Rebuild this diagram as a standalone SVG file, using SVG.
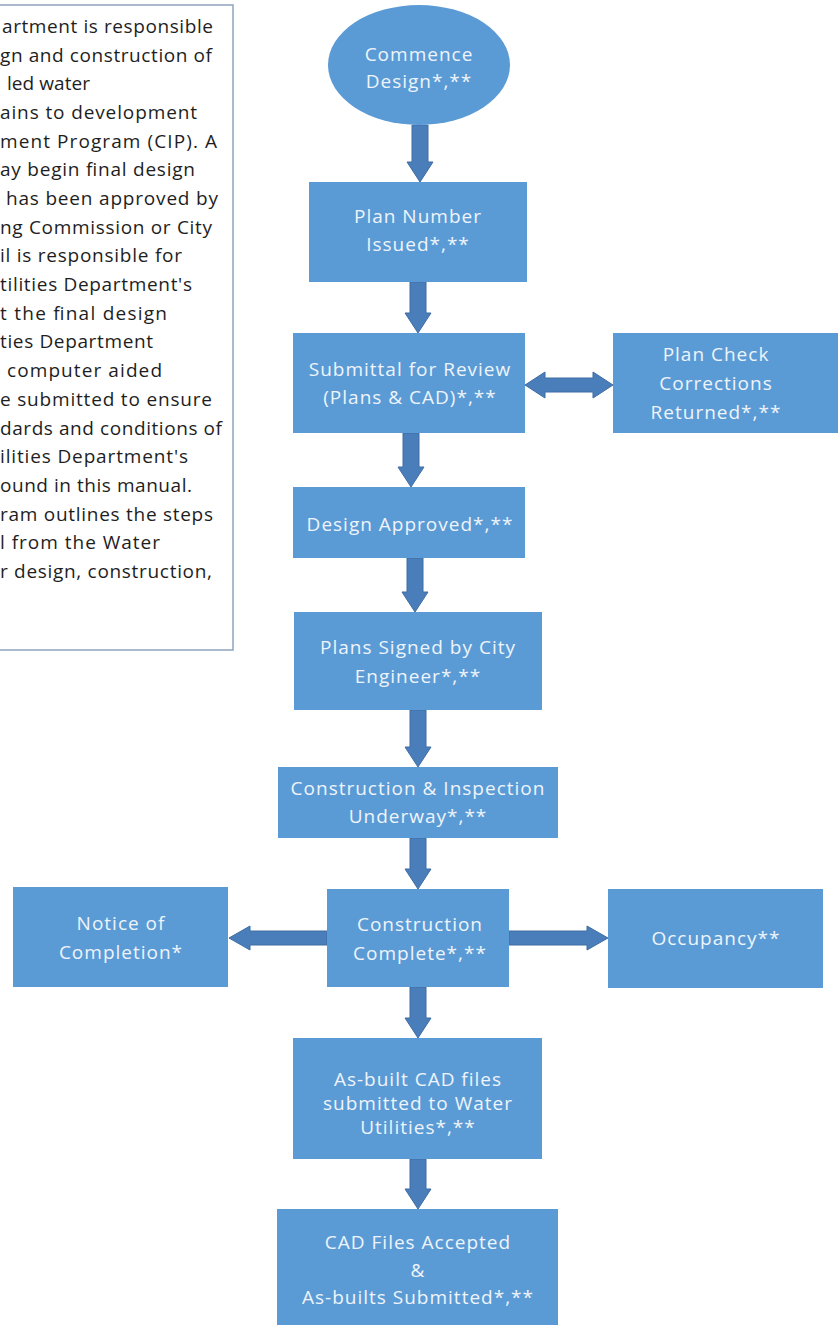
<svg xmlns="http://www.w3.org/2000/svg" width="838" height="1325" viewBox="0 0 838 1325">
<style>
.node{fill:#5b9bd5;}
.nt{font-family:"Open Sans","Liberation Sans",sans-serif;font-size:19px;letter-spacing:1px;fill:#eef4fb;text-anchor:middle;}
.pt{font-family:"Open Sans","Liberation Sans",sans-serif;font-size:19px;fill:#1e1e1e;}
.arr{fill:#4a7ebb;stroke:#3f6da3;stroke-width:1;}
</style>
<rect width="838" height="1325" fill="#ffffff"/>
<g id="info">
<rect x="-10" y="5" width="243" height="645" fill="#ffffff" stroke="#8fa3bd" stroke-width="1.5"/>
<text class="pt" x="2" y="33" textLength="211" lengthAdjust="spacing">artment is responsible</text>
<text class="pt" x="0" y="62" textLength="212" lengthAdjust="spacing">gn and construction of</text>
<text class="pt" x="7" y="90" textLength="83" lengthAdjust="spacing">led water</text>
<text class="pt" x="0" y="119" textLength="197" lengthAdjust="spacing">ains to development</text>
<text class="pt" x="0" y="148" textLength="217" lengthAdjust="spacing">ment Program (CIP). A</text>
<text class="pt" x="0" y="176" textLength="195" lengthAdjust="spacing">ay begin final design</text>
<text class="pt" x="6" y="205" textLength="212" lengthAdjust="spacing">has been approved by</text>
<text class="pt" x="0" y="234" textLength="212" lengthAdjust="spacing">ng Commission or City</text>
<text class="pt" x="0" y="262" textLength="182" lengthAdjust="spacing">il is responsible for</text>
<text class="pt" x="0" y="291" textLength="192" lengthAdjust="spacing">tilities Department's</text>
<text class="pt" x="0" y="320" textLength="167" lengthAdjust="spacing">t the final design</text>
<text class="pt" x="0" y="348" textLength="153" lengthAdjust="spacing">ties Department</text>
<text class="pt" x="7" y="377" textLength="155" lengthAdjust="spacing">computer aided</text>
<text class="pt" x="0" y="406" textLength="212" lengthAdjust="spacing">e submitted to ensure</text>
<text class="pt" x="0" y="435" textLength="222" lengthAdjust="spacing">dards and conditions of</text>
<text class="pt" x="0" y="463" textLength="188" lengthAdjust="spacing">ilities Department's</text>
<text class="pt" x="0" y="492" textLength="192" lengthAdjust="spacing">ound in this manual.</text>
<text class="pt" x="0" y="521" textLength="213" lengthAdjust="spacing">ram outlines the steps</text>
<text class="pt" x="0" y="549" textLength="160" lengthAdjust="spacing">l from the Water</text>
<text class="pt" x="0" y="578" textLength="212" lengthAdjust="spacing">r design, construction,</text>
</g>
<g id="connectors">
<polygon class="arr" points="412,125 428,125 428,162 433,162 420,182 407,162 412,162"/>
<polygon class="arr" points="410,282 426,282 426,313 431,313 418,333 405,313 410,313"/>
<polygon class="arr" points="403,433 419,433 419,467 424,467 411,487 398,467 403,467"/>
<polygon class="arr" points="407,558 423,558 423,592 428,592 415,612 402,592 407,592"/>
<polygon class="arr" points="410,710 426,710 426,747 431,747 418,767 405,747 410,747"/>
<polygon class="arr" points="410,838 426,838 426,869 431,869 418,889 405,869 410,869"/>
<polygon class="arr" points="410,987 426,987 426,1018 431,1018 418,1038 405,1018 410,1018"/>
<polygon class="arr" points="410,1159 426,1159 426,1189 431,1189 418,1209 405,1189 410,1189"/>
<polygon class="arr" points="525,385 545,372 545,378 593,378 593,372 613,385 593,398 593,392 545,392 545,398"/>
<polygon class="arr" points="327,931 250,931 250,926 229,938 250,950 250,945 327,945"/>
<polygon class="arr" points="509,931 587,931 587,926 608,938 587,950 587,945 509,945"/>
</g>
<g id="n1"><ellipse class="node" cx="419" cy="65" rx="91" ry="60"/>
<text class="nt" x="419" y="61">Commence</text><text class="nt" x="419" y="88">Design*,**</text></g>
<g id="n2"><rect class="node" x="309" y="182" width="218" height="100"/>
<text class="nt" x="418" y="223">Plan Number</text><text class="nt" x="418" y="251">Issued*,**</text></g>
<g id="n3"><rect class="node" x="293" y="333" width="232" height="100"/>
<text class="nt" x="410" y="376">Submittal for Review</text><text class="nt" x="410" y="404">(Plans &amp; CAD)*,**</text></g>
<g id="n4"><rect class="node" x="613" y="333" width="230" height="100"/>
<text class="nt" x="716" y="361">Plan Check</text><text class="nt" x="716" y="390">Corrections</text><text class="nt" x="716" y="419">Returned*,**</text></g>
<g id="n5"><rect class="node" x="293" y="487" width="232" height="71"/>
<text class="nt" x="410" y="531">Design Approved*,**</text></g>
<g id="n6"><rect class="node" x="294" y="612" width="248" height="98"/>
<text class="nt" x="418" y="654">Plans Signed by City</text><text class="nt" x="418" y="683">Engineer*,**</text></g>
<g id="n7"><rect class="node" x="278" y="767" width="280" height="71"/>
<text class="nt" x="418" y="795">Construction &amp; Inspection</text><text class="nt" x="418" y="823">Underway*,**</text></g>
<g id="n8"><rect class="node" x="327" y="889" width="182" height="98"/>
<text class="nt" x="420" y="931">Construction</text><text class="nt" x="420" y="960">Complete*,**</text></g>
<g id="n9"><rect class="node" x="13" y="887" width="215" height="100"/>
<text class="nt" x="121" y="930">Notice of</text><text class="nt" x="121" y="959">Completion*</text></g>
<g id="n10"><rect class="node" x="608" y="889" width="215" height="99"/>
<text class="nt" x="716" y="945">Occupancy**</text></g>
<g id="n11"><rect class="node" x="293" y="1038" width="249" height="121"/>
<text class="nt" x="418" y="1086">As-built CAD files</text><text class="nt" x="418" y="1110">submitted to Water</text><text class="nt" x="418" y="1134">Utilities*,**</text></g>
<g id="n12"><rect class="node" x="277" y="1209" width="281" height="130"/>
<text class="nt" x="418" y="1249">CAD Files Accepted</text><text class="nt" x="418" y="1277">&amp;</text><text class="nt" x="418" y="1304">As-builts Submitted*,**</text></g>
</svg>
